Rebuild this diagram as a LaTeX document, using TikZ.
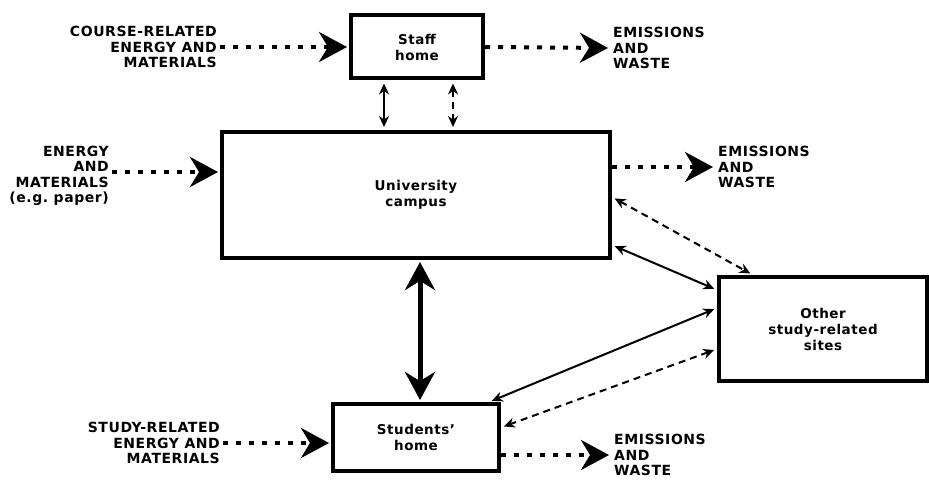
\documentclass[tikz,border=0pt]{standalone}
\usepackage{fontspec}
\setmainfont[LetterSpace=4]{DejaVu Sans}
\usetikzlibrary{arrows.meta}
\begin{document}
\begin{tikzpicture}[x=1pt,y=-1pt,
  box/.style={draw,line width=4pt,inner sep=0pt,align=center,font=\fontsize{13.5}{16}\selectfont\bfseries},
  lbl/.style={inner sep=3pt,font=\fontsize{14}{15.5}\selectfont\bfseries},
  flow/.style={line width=4pt,dash pattern=on 5pt off 8pt,shorten >=2pt,-{Stealth[length=28pt,width=30pt,inset=9pt]}},
  link/.style={line width=2pt,shorten <=3pt,shorten >=3pt,{Stealth[length=11pt,width=10pt]}-{Stealth[length=11pt,width=10pt]}},
  dashlink/.style={link,dash pattern=on 7pt off 5pt},
  biglink/.style={line width=5pt,shorten <=2pt,shorten >=2pt,{Stealth[length=28pt,width=30pt]}-{Stealth[length=28pt,width=30pt]}}]
\useasboundingbox (0,0) rectangle (929,481);
\node[box,minimum width=132pt,minimum height=63pt] (staff) at (417,47) {Staff\\home};
\node[box,minimum width=388pt,minimum height=126pt] (campus) at (416,195) {University\\campus};
\node[box,minimum width=208pt,minimum height=104pt] (other) at (823,329) {Other\\study-related\\sites};
\node[box,minimum width=166pt,minimum height=67pt] (students) at (416,437.5) {Students'\\home};
\node[lbl,anchor=east,align=right] (course) at (220,47) {COURSE-RELATED\\ENERGY AND\\MATERIALS};
\node[lbl,anchor=west,align=left] (staffout) at (610,48) {EMISSIONS\\AND\\WASTE};
\node[lbl,anchor=east,align=right] (energy) at (112,176) {ENERGY\\AND\\MATERIALS\\(e.g.\ paper)};
\node[lbl,anchor=west,align=left] (campusout) at (715,167) {EMISSIONS\\AND\\WASTE};
\node[lbl,anchor=east,align=right] (study) at (223,443) {STUDY-RELATED\\ENERGY AND\\MATERIALS};
\node[lbl,anchor=west,align=left] (studyout) at (611,455) {EMISSIONS\\AND\\WASTE};
\draw[flow] (course.east) -- (staff.west);
\draw[flow] (staff.east) -- (staffout.west);
\draw[flow] ([yshift=4pt]energy.east) -- ([yshift=4pt]energy.east -| campus.west);
\draw[flow] (campus.east |- campusout.west) -- (campusout.west);
\draw[flow] (study.east) -- (study.east -| students.west);
\draw[flow] (students.east |- studyout.west) -- (studyout.west);
\draw[link] ([xshift=-33pt]staff.south) -- ([xshift=-33pt]staff.south |- campus.north);
\draw[dashlink] ([xshift=36pt]staff.south) -- ([xshift=36pt]staff.south |- campus.north);
\draw[biglink] ([xshift=4pt]campus.south) -- ([xshift=4pt]campus.south |- students.north);
\draw[dashlink] ([yshift=-2pt]campus.east) -- ([xshift=36pt]other.north west);
\draw[link] ([yshift=15pt]campus.south east) -- ([yshift=-15pt]other.north west);
\draw[link] ([yshift=-33pt]other.north west) -- ([xshift=-12pt]students.north east);
\draw[dashlink] ([yshift=34pt]other.south west) -- ([yshift=10pt]students.east);
\end{tikzpicture}
\end{document}
